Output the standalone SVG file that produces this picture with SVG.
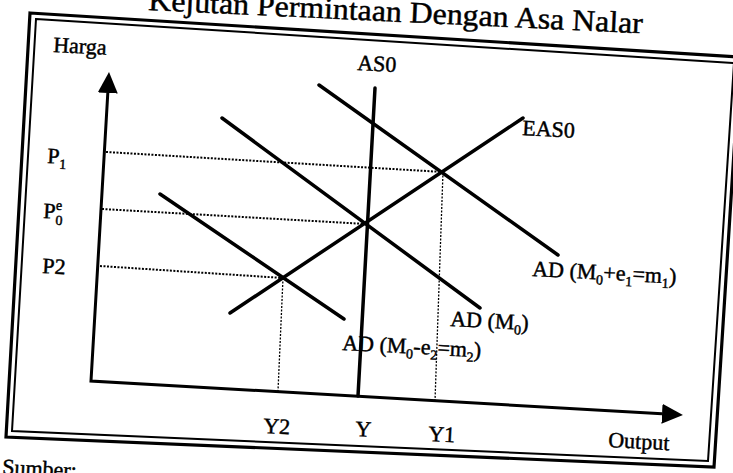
<svg xmlns="http://www.w3.org/2000/svg" width="733" height="473" viewBox="0 0 733 473">
<style>
text{font-family:"Liberation Serif","Times New Roman",serif;fill:#000;stroke:#000;stroke-width:0.45;}
.lbl{font-size:22px;}
.sub{font-size:14px;}
.frame{fill:none;stroke:#000;stroke-linejoin:miter;}
.curve{stroke:#000;stroke-width:3.5;fill:none;stroke-linecap:round;}
.axis{stroke:#000;stroke-width:3;fill:none;}
.dotH{stroke:#000;stroke-width:2;stroke-dasharray:2 1.5;fill:none;}
.dotV{stroke:#000;stroke-width:1.3;stroke-dasharray:2 1.5;fill:none;}
</style>
<defs>
<marker id="arr" markerUnits="userSpaceOnUse" viewBox="0 0 21 20" refX="0" refY="10" markerWidth="21" markerHeight="20" orient="auto-start-reverse">
<path d="M0,0 L21,10 L0,20 Z" fill="#000"/>
</marker>
</defs>
<rect width="733" height="473" fill="#fff"/>

<g id="title">
<text x="148" y="10" font-size="30" textLength="495" lengthAdjust="spacingAndGlyphs" transform="rotate(2.7 148 10)">Kejutan Permintaan Dengan Asa Nalar</text>
</g>

<g id="frame">
<polygon class="frame" stroke-width="3.2" points="30,13 740,57 714,467 6,437"/>
<polygon class="frame" stroke-width="2" points="36,19 734,63 708,461 12,431"/>
</g>

<g id="connectors">
<path id="axes" class="axis" d="M107.8,93 L91,381 L662,413.8" marker-start="url(#arr)" marker-end="url(#arr)"/>
<line class="dotH" x1="106" y1="152" x2="443" y2="172"/>
<line class="dotH" x1="102" y1="209" x2="366" y2="224"/>
<line class="dotH" x1="100" y1="266" x2="283" y2="278"/>
<line class="dotV" x1="283" y1="278" x2="278" y2="391"/>
<line class="dotV" x1="443" y1="172" x2="435" y2="401"/>
</g>

<g id="AS0">
<line class="curve" x1="375" y1="88" x2="358" y2="396"/>
<text class="lbl" x="357" y="70" transform="rotate(3 357 70)">AS0</text>
</g>

<g id="EAS0">
<line class="curve" x1="230" y1="313" x2="523" y2="118"/>
<text class="lbl" x="522" y="135" transform="rotate(3 522 135)">EAS0</text>
</g>

<g id="AD_m1">
<line class="curve" x1="319" y1="85" x2="558" y2="255"/>
<text class="lbl" x="532" y="276" transform="rotate(3 532 276)">AD (M<tspan class="sub" dy="5">0</tspan><tspan dy="-5">+e</tspan><tspan class="sub" dy="5">1</tspan><tspan dy="-5">=m</tspan><tspan class="sub" dy="5">1</tspan><tspan dy="-5">)</tspan></text>
</g>

<g id="AD_M0">
<line class="curve" x1="222" y1="118" x2="480" y2="308"/>
<text class="lbl" x="450" y="326" transform="rotate(3 450 326)">AD (M<tspan class="sub" dy="5">0</tspan><tspan dy="-5">)</tspan></text>
</g>

<g id="AD_m2">
<line class="curve" x1="160" y1="194" x2="344" y2="319"/>
<text class="lbl" x="342" y="350" transform="rotate(3 342 350)">AD (M<tspan class="sub" dy="5">0</tspan><tspan dy="-5">-e</tspan><tspan class="sub" dy="5">2</tspan><tspan dy="-5">=m</tspan><tspan class="sub" dy="5">2</tspan><tspan dy="-5">)</tspan></text>
</g>

<g id="labels">
<text class="lbl" x="53" y="52" transform="rotate(3 53 52)">Harga</text>
<text class="lbl" x="47" y="163" transform="rotate(3 47 163)">P<tspan class="sub" dy="5">1</tspan></text>
<text class="lbl" x="43" y="218" transform="rotate(3 43 218)">P<tspan class="sub" dy="-9">e</tspan><tspan class="sub" dx="-6" dy="15">0</tspan></text>
<text class="lbl" x="42" y="273" transform="rotate(3 42 273)">P2</text>
<text class="lbl" x="263" y="433" transform="rotate(3 263 433)">Y2</text>
<text class="lbl" x="355" y="436" transform="rotate(3 355 436)">Y</text>
<text class="lbl" x="428" y="441" transform="rotate(3 428 441)">Y1</text>
<text class="lbl" x="608" y="447" transform="rotate(3 608 447)">Output</text>
<text class="lbl" font-size="25" x="2" y="474" transform="rotate(3 2 474)">Sumber:</text>
</g>
</svg>
